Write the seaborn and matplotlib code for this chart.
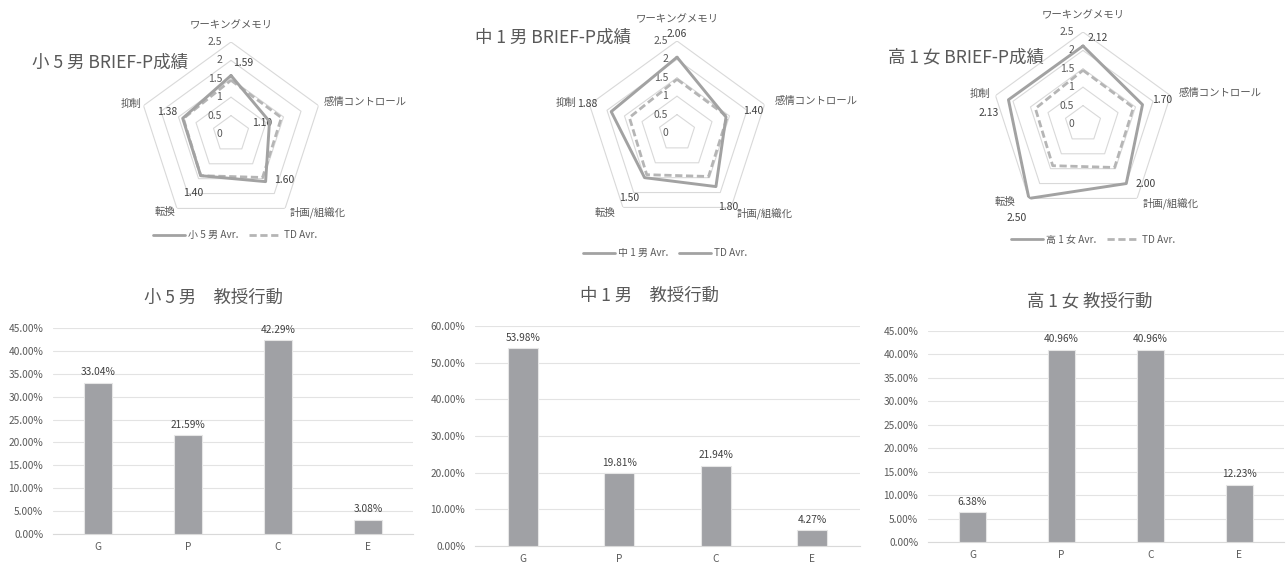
import numpy as np
import pandas as pd
import matplotlib
matplotlib.use('Agg')
import matplotlib.pyplot as plt
from matplotlib.ticker import FuncFormatter
from matplotlib.lines import Line2D
import seaborn as sns

sns.set_theme(style='white')
plt.rcParams['font.family'] = ['Noto Sans CJK JP', 'DejaVu Sans']

# ---------------- data ----------------
radar_axes_labels = ['ワーキングメモリ', '感情コントロール', '計画/組織化', '転換', '抑制']
radar_titles = ['小 5 男 BRIEF-P成績', '中 1 男 BRIEF-P成績', '高 1 女 BRIEF-P成績']
radar_series_names = ['小 5 男 Avr.', '中 1 男 Avr.', '高 1 女 Avr.']
td_name = 'TD Avr.'
sho5_scores = [1.59, 1.10, 1.60, 1.40, 1.38]
chu1_scores = [2.06, 1.40, 1.80, 1.50, 1.88]
ko1_scores = [2.12, 1.70, 2.00, 2.50, 2.13]
td_scores = [1.46, 1.44, 1.46, 1.40, 1.36]
radar_ticks = [0, 0.5, 1, 1.5, 2, 2.5]

bar_categories = ['G', 'P', 'C', 'E']
bar_titles = ['小 5 男　教授行動', '中 1 男　教授行動', '高 1 女 教授行動']
sho5_pct = [33.04, 21.59, 42.29, 3.08]
chu1_pct = [53.98, 19.81, 21.94, 4.27]
ko1_pct = [6.38, 40.96, 40.96, 12.23]

# ---------------- styles ----------------
W, H = 1286, 563
MAIN_C = '#A2A2A2'
TD_C = '#B5B5B5'
GRID_C = '#D9D9D9'
TXT_C = '#595959'
BAR_C = '#A0A1A5'

fig = plt.figure(figsize=(W / 100, H / 100), dpi=100)
fig.patch.set_facecolor('white')


def draw_radar(center, r_px, scores, title, title_pos, series_name, legend_pos,
               label_offsets, cat_offsets, td_legend_dashed=True):
    cx, cy = center
    ax = fig.add_axes([(cx - r_px) / W, (H - cy - r_px) / H, 2 * r_px / W, 2 * r_px / H],
                      projection='polar')
    ax.set_theta_offset(np.pi / 2)
    ax.set_theta_direction(-1)
    ax.grid(False)
    ax.spines['polar'].set_visible(False)
    ax.patch.set_alpha(0)
    n = len(radar_axes_labels)
    theta = np.arange(n) * 2 * np.pi / n
    closed = np.append(theta, theta[0])
    for lvl in radar_ticks[1:]:
        ax.plot(closed, [lvl] * (n + 1), color=GRID_C, lw=0.8, zorder=1)
    for lvl in radar_ticks:
        ax.annotate(f'{lvl:g}', xy=(0, lvl), xytext=(-9, 0), textcoords='offset pixels',
                    ha='right', va='center', fontsize=7.5, color=TXT_C, annotation_clip=False)
    df = pd.DataFrame({'theta': closed,
                       'main': np.append(scores, scores[0]),
                       'td': np.append(td_scores, td_scores[0])})
    sns.lineplot(data=df, x='theta', y='td', sort=False, estimator=None, ax=ax,
                 color=TD_C, lw=2.0, dashes=False, zorder=3)
    ax.lines[-1].set_dashes((2.6, 1.3))
    sns.lineplot(data=df, x='theta', y='main', sort=False, estimator=None, ax=ax,
                 color=MAIN_C, lw=2.1, zorder=4)
    ax.set_ylim(0, 2.5)
    ax.set_xticks([])
    ax.set_yticks([])
    ax.set_xlabel('')
    ax.set_ylabel('')
    # category labels
    aligns = ['center', 'left', 'left', 'right', 'right']
    for t, lab, off, ha in zip(theta, radar_axes_labels, cat_offsets, aligns):
        ax.annotate(lab, xy=(t, 2.5), xytext=off, textcoords='offset pixels', ha=ha,
                    va='center', fontsize=7.5, color=TXT_C, annotation_clip=False)
    # data labels
    for t, v, off in zip(theta, scores, label_offsets):
        ax.annotate(f'{v:.2f}', xy=(t, v), xytext=off, textcoords='offset pixels',
                    ha='center', va='center', fontsize=7.5, color='#404040',
                    annotation_clip=False)
    fig.text(title_pos[0] / W, 1 - title_pos[1] / H, title, ha='left', va='center',
             fontsize=12.6, color=TXT_C)
    h1 = Line2D([], [], color=MAIN_C, lw=2.0)
    if td_legend_dashed:
        h2 = Line2D([], [], color=TD_C, lw=2.0, dashes=(2.6, 1.3))
    else:
        h2 = Line2D([], [], color=MAIN_C, lw=2.0)
    fig.legend([h1, h2], [series_name, td_name], loc='center',
               bbox_to_anchor=(legend_pos[0] / W, 1 - legend_pos[1] / H), ncol=2,
               frameon=False, fontsize=7.2, handlelength=3.2, handletextpad=0.3,
               columnspacing=1.0, labelcolor=TXT_C)


draw_radar((231, 134), 92, sho5_scores, radar_titles[0], (32, 63), radar_series_names[0],
           (235, 235), [(12, 12), (-7, -2), (19, 2), (-8, -17), (-15, 6)],
           [(0, 17), (5, 4), (5, -4), (-2, -4), (-2, 2)])
draw_radar((677, 133), 92, chu1_scores, radar_titles[1], (475, 38), radar_series_names[1],
           (665, 253), [(0, 23), (27, 6), (12, -20), (-15, -20), (-24, 8)],
           [(0, 22), (10, 4), (6, -6), (-8, -6), (-13, 2)],
           td_legend_dashed=False)
draw_radar((1083, 124), 92, ko1_scores, radar_titles[2], (888, 57), radar_series_names[2],
           (1093, 240), [(15, 8), (20, 5), (19, 0), (-12, -20), (-20, -13)],
           [(0, 17), (8, 3), (6, -5), (-14, -4), (-5, 2)])


def draw_bar(x0, x1, ytop, ybot, values, title, title_pos, ymax, ystep):
    ax = fig.add_axes([x0 / W, (H - ybot) / H, (x1 - x0) / W, (ybot - ytop) / H])
    df = pd.DataFrame({'cat': bar_categories, 'pct': values})
    sns.barplot(data=df, x='cat', y='pct', color=BAR_C, saturation=1, width=0.31,
                edgecolor='#E6E6E6', linewidth=0.8, ax=ax, zorder=3)
    ax.set_ylim(0, ymax)
    ax.set_yticks(np.arange(0, ymax + 0.001, ystep))
    ax.yaxis.set_major_formatter(FuncFormatter(lambda v, p: f'{v:.2f}%'))
    ax.grid(axis='y', color='#E3E3E3', lw=0.8, zorder=0)
    ax.grid(axis='x', visible=False)
    ax.set_axisbelow(True)
    for s in ['top', 'right', 'left']:
        ax.spines[s].set_visible(False)
    ax.spines['bottom'].set_color(GRID_C)
    ax.spines['bottom'].set_linewidth(0.8)
    ax.tick_params(length=0, labelsize=7.3, colors=TXT_C)
    ax.tick_params(axis='y', pad=7)
    ax.tick_params(axis='x', pad=6)
    ax.set_xlabel('')
    ax.set_ylabel('')
    ax.patch.set_alpha(0)
    ax.bar_label(ax.containers[0], fmt='%.2f%%', padding=4, fontsize=7.3, color='#404040')
    fig.text(title_pos[0] / W, 1 - title_pos[1] / H, title, ha='center', va='center',
             fontsize=12.5, color=TXT_C)


draw_bar(53, 413, 328, 534, sho5_pct, bar_titles[0], (213, 298), 45, 5)
draw_bar(475, 860, 326, 546, chu1_pct, bar_titles[1], (650, 296), 60, 10)
draw_bar(928, 1284, 331, 542, ko1_pct, bar_titles[2], (1090, 301), 45, 5)

fig.savefig('out.png', dpi=100, facecolor='white')
